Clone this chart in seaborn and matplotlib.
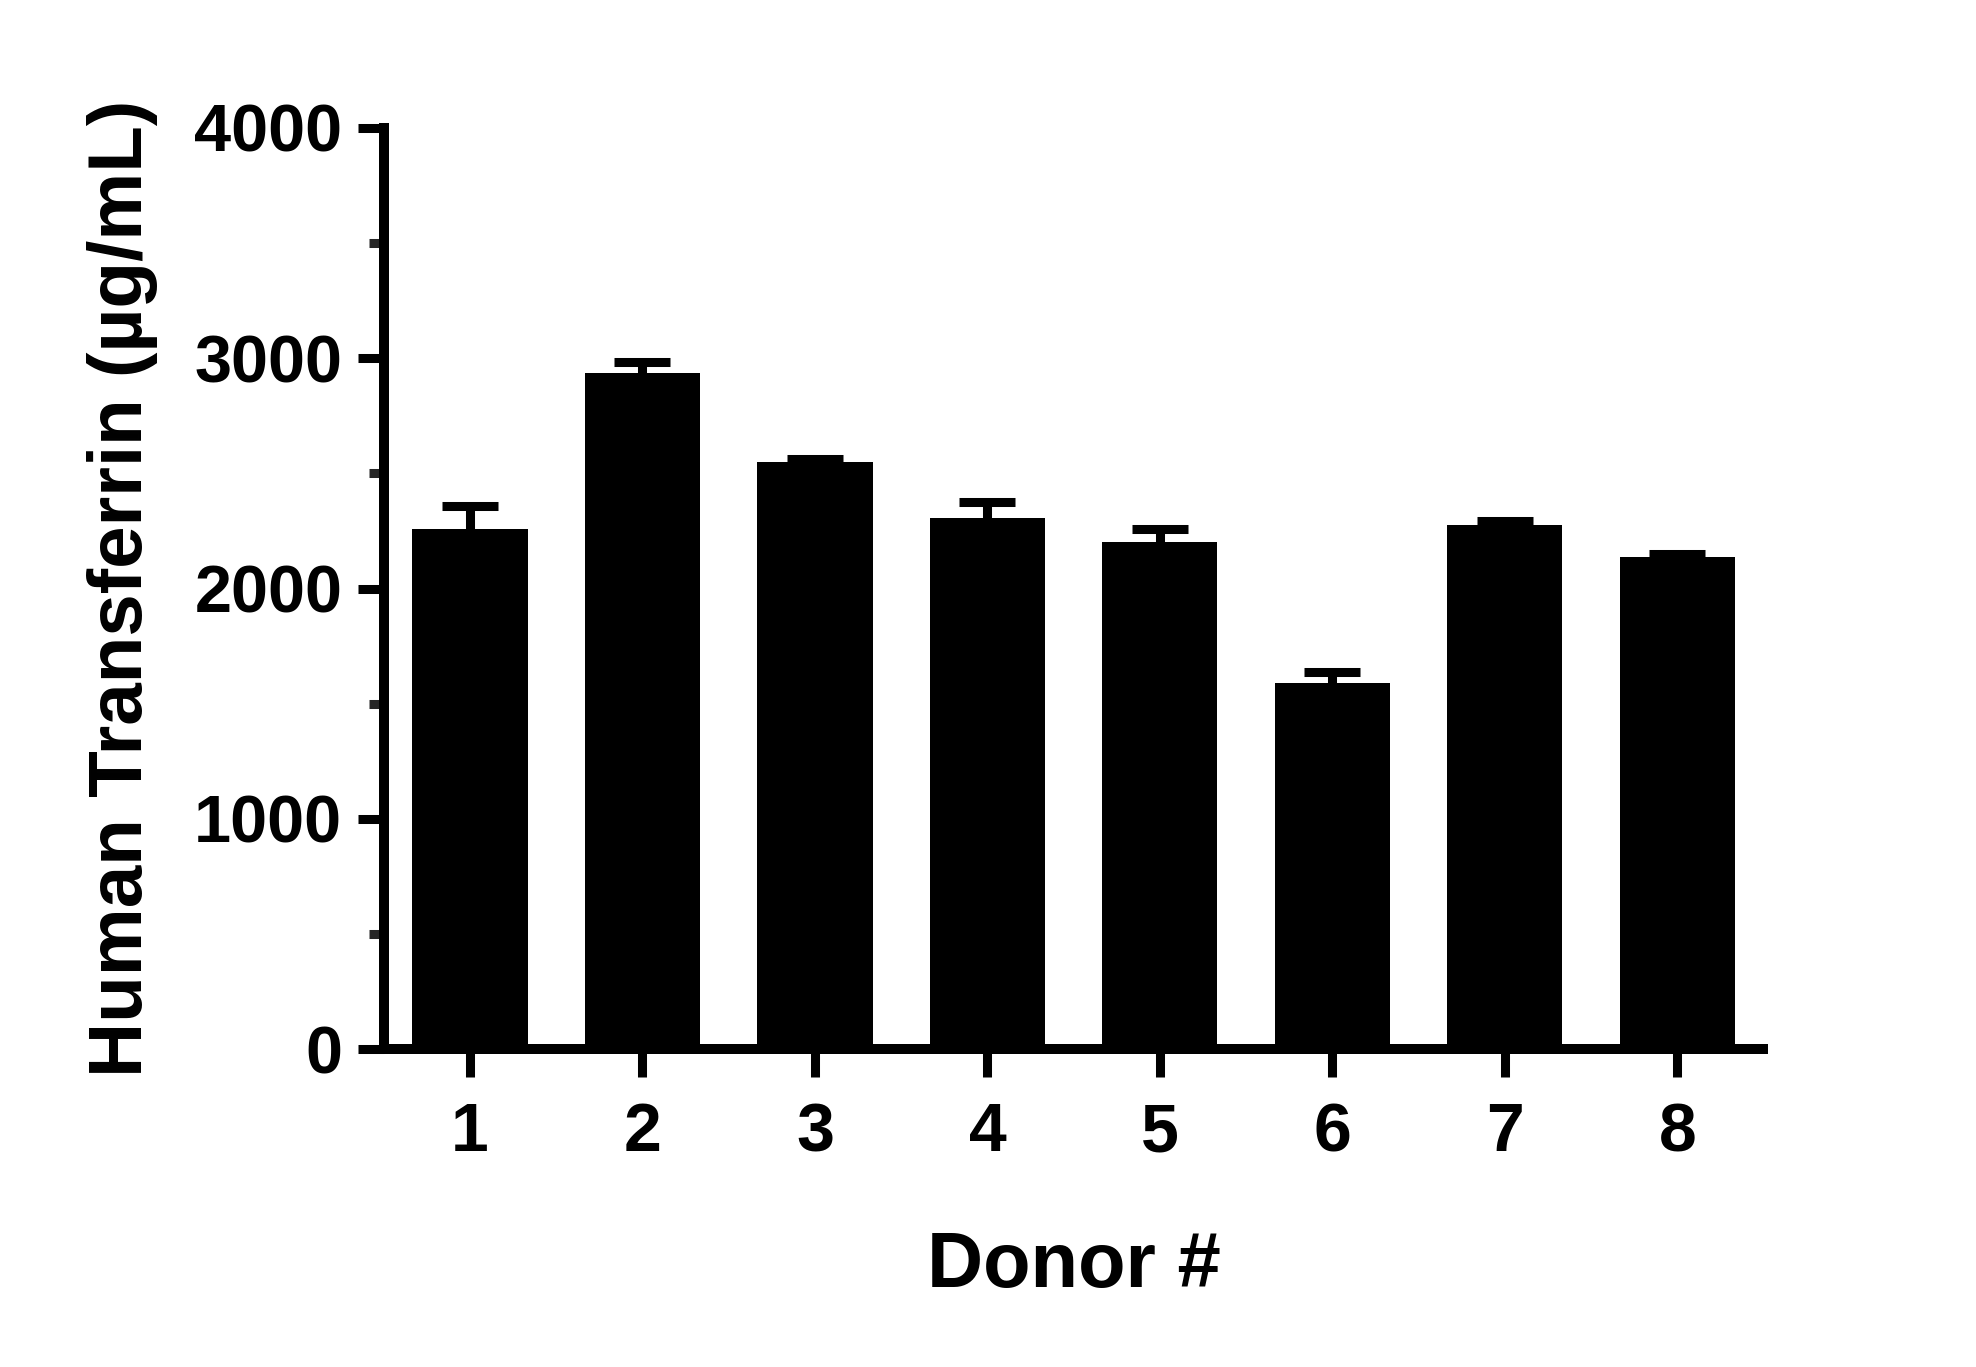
import numpy as np
import pandas as pd
import matplotlib
matplotlib.use("Agg")
import matplotlib.pyplot as plt
from matplotlib import font_manager as fm
from matplotlib.ticker import MultipleLocator
import seaborn as sns

# ---- data ----
donors = ["1", "2", "3", "4", "5", "6", "7", "8"]
mean_ug_ml = [2260, 2935, 2550, 2305, 2200, 1590, 2275, 2135]
err_ug_ml = [100, 50, 12, 72, 58, 48, 17, 14]
y_ticks = [0, 1000, 2000, 3000, 4000]

df = pd.DataFrame({"Donor": donors, "Transferrin": mean_ug_ml, "Err": err_ug_ml})

sns.set_theme(style="white")
names = {f.name for f in fm.fontManager.ttflist}
main_font = "Liberation Sans" if "Liberation Sans" in names else "DejaVu Sans"
plt.rcParams["font.family"] = [main_font, "DejaVu Sans"]

L, R, B, T = 384, 1763, 1049, 128
fig = plt.figure(figsize=(19.76, 13.67), dpi=100)
ax = fig.add_axes([L / 1976, 1 - B / 1367, (R - L) / 1976, (B - T) / 1367])

sns.barplot(data=df, x="Donor", y="Transferrin", color="black", saturation=1,
            width=0.667, errorbar=None, ax=ax, edgecolor="black", linewidth=0)

xpos = np.arange(len(donors))
eb = ax.errorbar(xpos, df["Transferrin"], yerr=[np.zeros(len(donors)), df["Err"]],
                 fmt="none", ecolor="black", elinewidth=6.5, capsize=20.5, capthick=6.5,
                 zorder=3, clip_on=False)
# only the upper cap (mean + error), as in the reference
caplines = eb.lines[1]
if len(caplines) == 2:
    caplines[0].set_visible(False)

ax.set_xlim(-0.4986, 7.496)
ax.set_ylim(0, 4000)
ax.set_yticks(y_ticks)
ax.set_yticklabels([str(v) for v in y_ticks])
ax.yaxis.set_minor_locator(MultipleLocator(500))

for side in ["top", "right"]:
    ax.spines[side].set_visible(False)
for side in ["left", "bottom"]:
    ax.spines[side].set_linewidth(7.2)
    ax.spines[side].set_color("black")
    ax.spines[side].set_capstyle("projecting")

ax.tick_params(axis="y", which="major", length=19, width=6.5, pad=11,
               labelsize=48, colors="black", direction="out", left=True)
ax.tick_params(axis="y", which="minor", length=11, width=6.5, left=True, direction="out")
ax.tick_params(axis="x", which="major", length=20, width=6.5, pad=17.5,
               labelsize=49, colors="black", direction="out", bottom=True)
for lab in ax.get_yticklabels() + ax.get_xticklabels():
    lab.set_fontweight("bold")

ax.set_xlabel("Donor #", fontsize=56, fontweight="bold", color="black")
ax.xaxis.set_label_coords(0.5, -0.196)

ax.set_ylabel("Human Transferrin (µg/mL)", fontsize=55, fontweight="bold",
              color="black", va="center")
ax.yaxis.set_label_coords((123 - L) / (R - L), 0.5)

ax.set_facecolor("white")
fig.patch.set_facecolor("white")
fig.savefig("out.png", dpi=100)
